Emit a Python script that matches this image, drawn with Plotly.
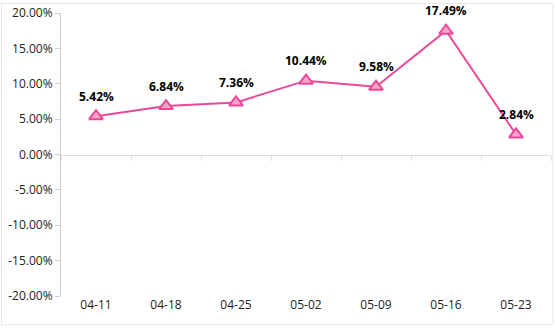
import plotly.graph_objects as go

# Weekly return series
dates = ["04-11", "04-18", "04-25", "05-02", "05-09", "05-16", "05-23"]
returns = [5.42, 6.84, 7.36, 10.44, 9.58, 17.49, 2.84]
y_ticks = [20, 15, 10, 5, 0, -5, -10, -15, -20]
y_tick_text = [f"{v:.2f}%" for v in y_ticks]

LINE = "#ec4899"
FILL = "#f4a6c9"
FONT = "Open Sans, Noto Sans, sans-serif"

fig = go.Figure()
fig.add_trace(go.Scatter(
    x=dates, y=returns,
    mode="lines+markers",
    line=dict(color=LINE, width=2),
    marker=dict(symbol="triangle-up", size=12, color=FILL,
                line=dict(color=LINE, width=2)),
    cliponaxis=False,
    hoverinfo="skip",
))
# invisible carrier for the zero-line axis
fig.add_trace(go.Scatter(x=dates, y=[None] * len(dates), xaxis="x2",
                         mode="lines", showlegend=False, hoverinfo="skip"))

# value labels above each point
annotations = [
    dict(x=d, y=v, xref="x", yref="y", text=f"{v:.2f}%", showarrow=False,
         yshift=20, font=dict(family=FONT, size=12, color="#000000", weight="bold"))
    for d, v in zip(dates, returns)
]

fig.update_layout(
    width=555, height=335,
    margin=dict(l=61, r=4, t=11, b=39),
    paper_bgcolor="white", plot_bgcolor="white",
    showlegend=False,
    font=dict(family=FONT, size=12, color="#333333"),
    annotations=annotations,
    xaxis=dict(
        type="category", categoryarray=dates, range=[-0.5, 6.5],
        showline=False, showgrid=False, zeroline=False, ticks="",
        tickfont=dict(size=12, color="#222222"),
    ),
    xaxis2=dict(
        type="category", categoryarray=dates, range=[-0.5, 6.5],
        overlaying="x", anchor="free", position=0.5,
        showline=True, linecolor="#dddddd", linewidth=1,
        ticks="outside", ticklen=5, tickcolor="#dddddd", tickson="boundaries",
        showticklabels=False, showgrid=False, zeroline=False,
    ),
    yaxis=dict(
        range=[-20, 20], tickvals=y_ticks, ticktext=y_tick_text,
        showline=True, linecolor="#cccccc", linewidth=1,
        ticks="outside", ticklen=5, tickcolor="#cccccc",
        showgrid=False, zeroline=False,
        tickfont=dict(size=12, color="#222222"),
    ),
    shapes=[dict(type="rect", xref="paper", yref="paper",
                 x0=-0.1214, x1=1.0041, y0=-0.1018, y1=1.0333,
                 line=dict(color="#e6e6e6", width=1), layer="below")],
)

fig.write_html("out.html")
